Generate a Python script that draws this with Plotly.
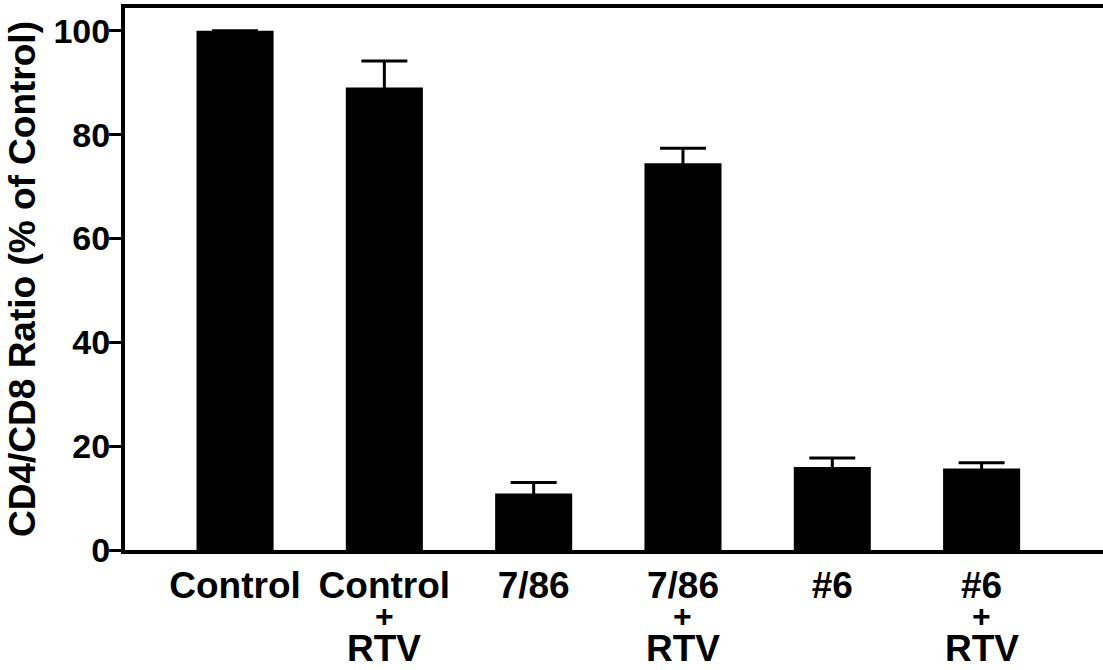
import plotly.graph_objects as go

# Treatment groups, mean CD4/CD8 ratio (% of control) and SEM
groups = ["Control", "Control + RTV", "7/86", "7/86 + RTV", "#6", "#6 + RTV"]
first_line = ["Control", "Control", "7/86", "7/86", "#6", "#6"]
with_rtv = [False, True, False, True, False, True]
ratio = [100.0, 89.1, 10.9, 74.5, 16.0, 15.7]
sem = [None, 5.1, 2.1, 2.9, 1.7, 1.1]
y_ticks = [0, 20, 40, 60, 80, 100]

FONT = "Liberation Sans, Arial, Helvetica, sans-serif"

fig = go.Figure(
    go.Bar(
        x=groups,
        y=ratio,
        width=0.516,
        marker=dict(color="black", line=dict(width=0)),
        error_y=dict(
            type="data",
            array=sem,
            color="black",
            thickness=3,
            width=23,
            visible=True,
        ),
    )
)

# second and third lines of the RTV labels
annotations = []
for g, rtv in zip(groups, with_rtv):
    if rtv:
        annotations.append(dict(
            x=g, xref="x", y=-0.122, yref="paper", text="+", showarrow=False,
            yanchor="middle", font=dict(family=FONT, size=32, color="black", weight="bold"),
        ))
        annotations.append(dict(
            x=g, xref="x", y=-0.181, yref="paper", text="RTV", showarrow=False,
            yanchor="middle", font=dict(family=FONT, size=37, color="black", weight="bold"),
        ))

fig.update_layout(
    width=1103,
    height=670,
    margin=dict(l=125, r=0, t=8, b=120),
    paper_bgcolor="white",
    plot_bgcolor="white",
    showlegend=False,
    font=dict(family=FONT, color="black", weight="bold"),
    annotations=annotations,
    xaxis=dict(
        type="category",
        range=[-0.737, 5.813],
        tickmode="array",
        tickvals=groups,
        ticktext=first_line,
        tickfont=dict(family=FONT, size=37, color="black", weight="bold"),
        showline=True,
        linecolor="black",
        linewidth=4,
        mirror=True,
        ticks="",
        showgrid=False,
        zeroline=False,
    ),
    yaxis=dict(
        range=[0, 104.4],
        tickmode="array",
        tickvals=y_ticks,
        tickfont=dict(family=FONT, size=34, color="black", weight="bold"),
        ticks="outside",
        ticklen=12,
        tickwidth=3,
        tickcolor="black",
        ticklabelstandoff=-8,
        showline=True,
        linecolor="black",
        linewidth=4,
        showgrid=False,
        zeroline=False,
        title=dict(
            text="CD4/CD8 Ratio (% of Control)",
            font=dict(family=FONT, size=37, color="black", weight="bold"),
            standoff=8,
        ),
    ),
)

fig.write_html("out.html")
